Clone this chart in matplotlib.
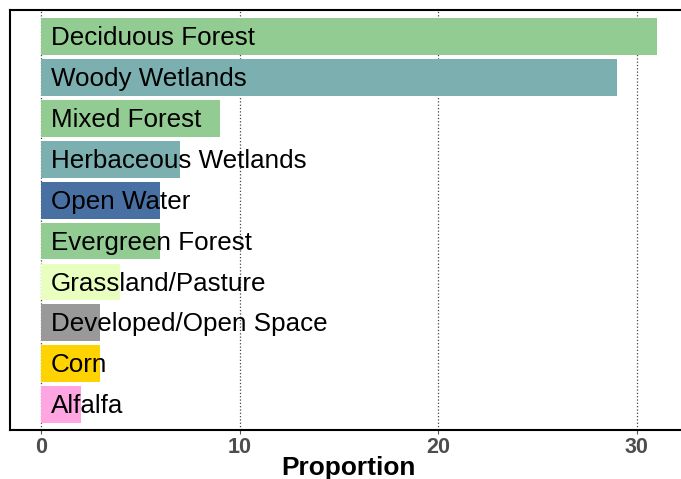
import matplotlib
matplotlib.use("Agg")
import matplotlib.pyplot as plt

# land cover classes, top to bottom
classes = ["Deciduous Forest", "Woody Wetlands", "Mixed Forest", "Herbaceous Wetlands",
           "Open Water", "Evergreen Forest", "Grassland/Pasture", "Developed/Open Space",
           "Corn", "Alfalfa"]
proportion = [31, 29, 9, 7, 6, 6, 4, 3, 3, 2]
colors = ["#93CC93", "#7CAFAF", "#93CC93", "#7CAFAF", "#4970A3", "#93CC93",
          "#E8FFBF", "#999999", "#FFD300", "#FFA5E2"]
xticks = [0, 10, 20, 30]

plt.rcParams["font.family"] = ["Liberation Sans", "DejaVu Sans"]

fig = plt.figure(figsize=(6.81, 4.79), dpi=100)
ax = fig.add_axes([10 / 681, 49 / 479, 677.6 / 681, 420 / 479])

n = len(classes)
ypos = [n - 1 - i for i in range(n)]

ax.barh(ypos, proportion, height=0.9, color=colors, zorder=2)
for y, name in zip(ypos, classes):
    # baseline placed so the capitals sit centred on the bar
    ax.text(0.5, y - 0.21, name, fontsize=18.7, va="baseline", ha="left",
            color="black", zorder=3)

ax.set_xlim(-1.55, 32.55)
ax.set_ylim(-0.62, 9.65)
ax.set_xticks(xticks)
ax.set_xticklabels([str(t) for t in xticks], fontsize=15.5, fontweight="bold", color="#4D4D4D")
ax.set_yticks([])
ax.tick_params(axis="x", length=3, color="#555555", pad=2)
ax.grid(axis="x", linestyle=":", color="#444444", linewidth=0.9, zorder=0)
ax.set_axisbelow(True)

for side in ["left", "top", "bottom", "right"]:
    ax.spines[side].set_color("black")
    ax.spines[side].set_linewidth(1.5)

# x title sits low, its descender runs off the bottom like in the original
fig.text(348 / 681, 1 - 475 / 479, "Proportion", fontsize=18.9, fontweight="bold",
         color="black", ha="center", va="baseline")

fig.savefig("out.png", dpi=100)
